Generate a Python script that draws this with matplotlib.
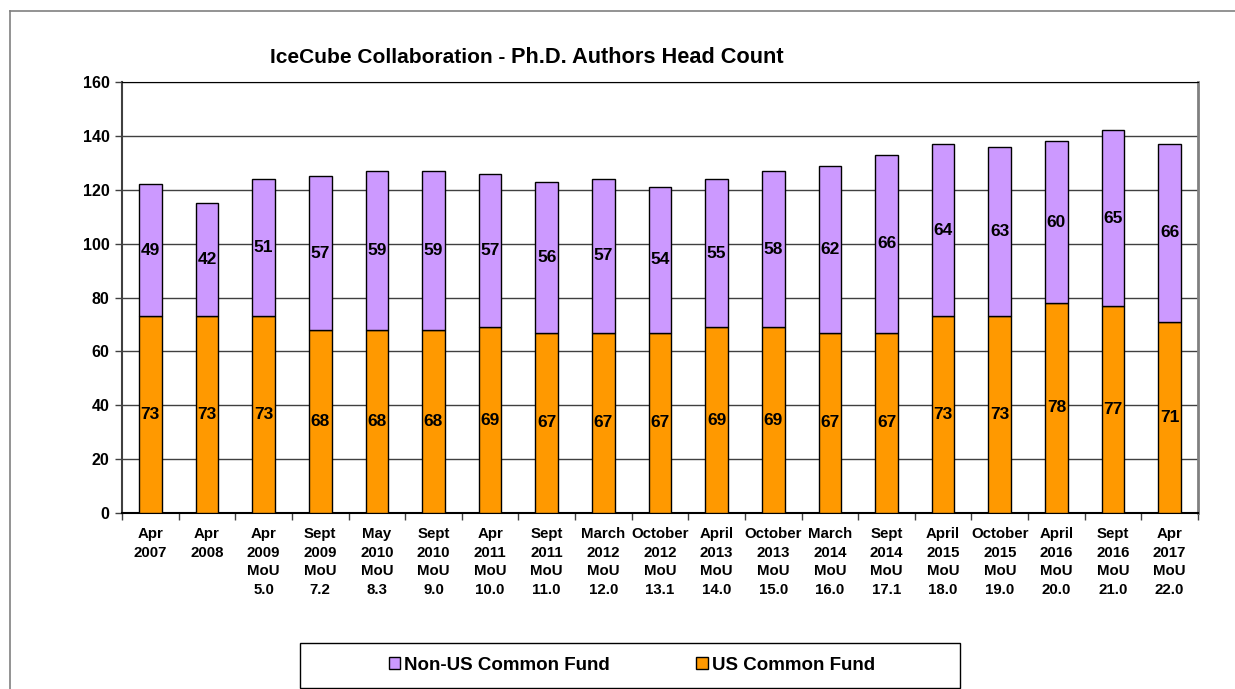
import matplotlib
matplotlib.use("Agg")
import matplotlib.pyplot as plt
from matplotlib.patches import Rectangle, Patch
from matplotlib.lines import Line2D
import numpy as np

plt.rcParams['font.family'] = ['Liberation Sans', 'DejaVu Sans']
plt.rcParams['font.weight'] = 'bold'

categories = ["Apr\n2007", "Apr\n2008", "Apr\n2009\nMoU\n5.0", "Sept\n2009\nMoU\n7.2",
              "May\n2010\nMoU\n8.3", "Sept\n2010\nMoU\n9.0", "Apr\n2011\nMoU\n10.0",
              "Sept\n2011\nMoU\n11.0", "March\n2012\nMoU\n12.0", "October\n2012\nMoU\n13.1",
              "April\n2013\nMoU\n14.0", "October\n2013\nMoU\n15.0", "March\n2014\nMoU\n16.0",
              "Sept\n2014\nMoU\n17.1", "April\n2015\nMoU\n18.0", "October\n2015\nMoU\n19.0",
              "April\n2016\nMoU\n20.0", "Sept\n2016\nMoU\n21.0", "Apr\n2017\nMoU\n22.0"]
us_common_fund = [73, 73, 73, 68, 68, 68, 69, 67, 67, 67, 69, 69, 67, 67, 73, 73, 78, 77, 71]
non_us_common_fund = [49, 42, 51, 57, 59, 59, 57, 56, 57, 54, 55, 58, 62, 66, 64, 63, 60, 65, 66]
y_ticks = [0, 20, 40, 60, 80, 100, 120, 140, 160]

W, H = 1235, 689
fig = plt.figure(figsize=(W / 100, H / 100), dpi=100)
ax = fig.add_axes([122 / W, 1 - 513 / H, (1198 - 122) / W, (513 - 82) / H])

x = np.arange(len(categories))
us = np.array(us_common_fund)
nonus = np.array(non_us_common_fund)
US_COLOR = '#FF9900'
NONUS_COLOR = '#CC99FF'
bw = 0.40
ax.bar(x, us, width=bw, color=US_COLOR, edgecolor='black', linewidth=1.0, zorder=3)
ax.bar(x, nonus, width=bw, bottom=us, color=NONUS_COLOR, edgecolor='black', linewidth=1.0, zorder=3)

for xi, u, n in zip(x, us, nonus):
    ax.text(xi, u / 2, str(u), ha='center', va='center', fontsize=12.5, fontweight='bold', zorder=4)
    ax.text(xi, u + n / 2, str(n), ha='center', va='center', fontsize=12.5, fontweight='bold', zorder=4)

ax.set_xlim(-0.5, len(categories) - 0.5)
ax.set_ylim(0, 160)
ax.set_yticks(y_ticks)
ax.set_yticklabels([str(v) for v in y_ticks], fontsize=11.5, fontweight='bold')
ax.yaxis.grid(True, color='#404040', linewidth=1.0, zorder=0)
ax.set_axisbelow(True)

ax.set_xticks(x)
ax.set_xticklabels(categories, fontsize=10.8, fontweight='bold', linespacing=1.42)
ax.tick_params(axis='x', length=0, pad=10)
ax.set_xticks(np.arange(len(categories) + 1) - 0.5, minor=True)
ax.tick_params(axis='x', which='minor', length=5, width=1, color='#404040', direction='out')
ax.tick_params(axis='y', length=5, width=1, color='#404040', direction='out', pad=4)

ax.spines['top'].set_color('black')
ax.spines['right'].set_color('#808080')
ax.spines['right'].set_linewidth(2)
ax.spines['left'].set_color('#404040')
ax.spines['left'].set_linewidth(1.5)
ax.spines['bottom'].set_color('black')
ax.spines['bottom'].set_linewidth(1.5)

# Title (two sizes as in the reference)
fig.text(505 / W, 1 - 63 / H, "IceCube Collaboration -", ha='right', va='baseline',
         fontsize=15, fontweight='bold')
fig.text(511 / W, 1 - 63 / H, "Ph.D. Authors Head Count", ha='left', va='baseline',
         fontsize=15.7, fontweight='bold')

# Outer frame lines
fig.add_artist(Line2D([10 / W, 1.0], [1 - 11 / H, 1 - 11 / H], color='#808080', linewidth=1.2))
fig.add_artist(Line2D([10 / W, 10 / W], [1 - 11 / H, 0.0], color='#808080', linewidth=1.2))

# Legend box
fig.add_artist(Rectangle((300 / W, 1 - 688 / H), 660 / W, 45 / H, transform=fig.transFigure,
                         facecolor='white', edgecolor='black', linewidth=1.0))
handles = [Patch(facecolor=NONUS_COLOR, edgecolor='black', linewidth=1.0),
           Patch(facecolor=US_COLOR, edgecolor='black', linewidth=1.0)]
fig.legend(handles, ["Non-US Common Fund", "US Common Fund"], loc='center',
           bbox_to_anchor=(632 / W, 1 - 665 / H), ncol=2, frameon=False,
           prop={'size': 13.5, 'weight': 'bold'}, handlelength=0.6, handleheight=0.6,
           handletextpad=0.25, columnspacing=4.6)

fig.savefig("out.png", dpi=100)
